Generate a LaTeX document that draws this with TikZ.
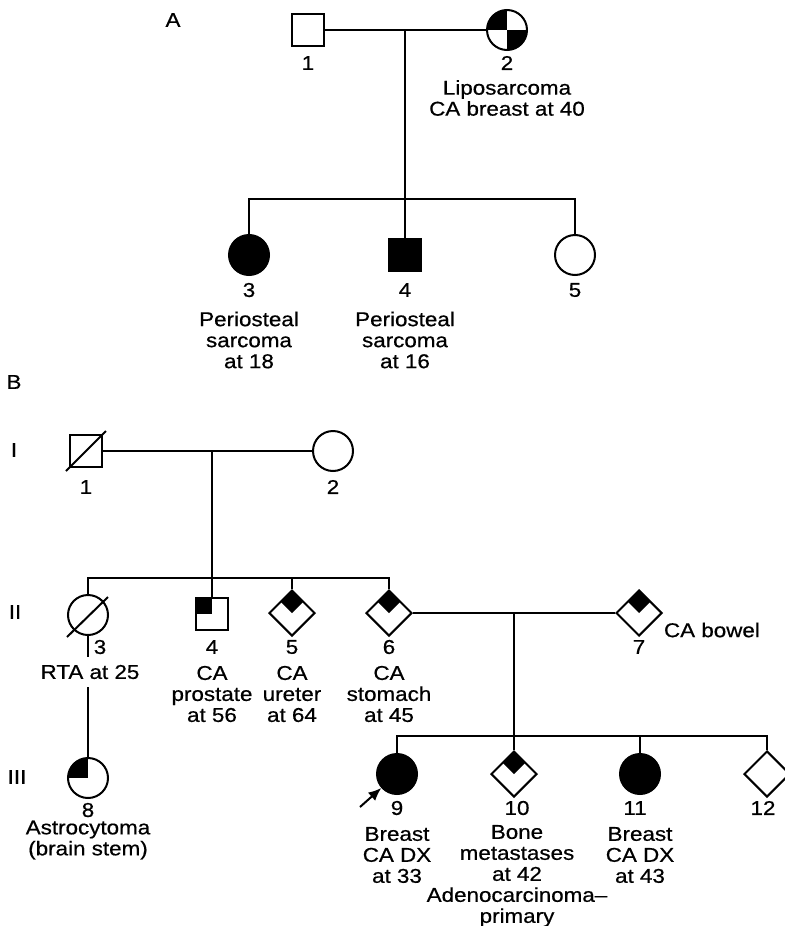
\documentclass[tikz,border=0pt]{standalone}
\usepackage{fontspec}
\setmainfont[FakeStretch=1.12, FakeBold=0.6]{Liberation Sans}
\usetikzlibrary{arrows.meta,shapes.geometric,calc}

\begin{document}
\begin{tikzpicture}[x=0.5pt, y=-0.5pt, line width=1pt,
    male/.style={rectangle, draw, fill=white, minimum size=16pt, inner sep=0pt},
    female/.style={circle, draw, fill=white, minimum size=20pt, inner sep=0pt},
    unknown/.style={diamond, draw, fill=white, aspect=1, minimum size=23pt, inner sep=0pt},
    qul/.style={path picture={\fill[black] (path picture bounding box.center) rectangle (path picture bounding box.north west);}},
    qdiag/.style={path picture={
        \fill[black] (path picture bounding box.center) rectangle (path picture bounding box.north west);
        \fill[black] (path picture bounding box.center) rectangle (path picture bounding box.south east);}},
    qtop/.style={path picture={\fill[black] (path picture bounding box.center)
        -- ($(path picture bounding box.north)!.5!(path picture bounding box.west)$)
        -- (path picture bounding box.north)
        -- ($(path picture bounding box.north)!.5!(path picture bounding box.east)$) -- cycle;}},
    txt/.style={font=\fontsize{10}{10.5}\selectfont, align=center, inner sep=0pt}]

\useasboundingbox (0,0) rectangle (785,926);

% pedigree A
\node[txt] (lblA) at (173,20) {A};
\node[male] (a1) at (308,30) {};
\node[female, qdiag] (a2) at (507,30) {};
\node[female, fill=black] (a3) at (249,255) {};
\node[male, fill=black] (a4) at (405,255) {};
\node[female] (a5) at (575,255) {};

\coordinate (am) at (405,30);
\coordinate (as) at (405,199);
\draw (a1) -- (a2);
\draw (am) -- (a4);
\draw (a3) |- (as) -| (a5);

\node[txt] (a1n) at (308,63) {1};
\node[txt] (a2n) at (507,63) {2};
\node[txt] (a2t) at (507,98) {Liposarcoma\\CA breast at 40};
\node[txt] (a3n) at (249,290) {3};
\node[txt] (a4n) at (405,290) {4};
\node[txt] (a5n) at (575,290) {5};
\node[txt] (a3t) at (249,340) {Periosteal\\sarcoma\\at 18};
\node[txt] (a4t) at (405,340) {Periosteal\\sarcoma\\at 16};

% pedigree B
\node[txt] (lblB) at (14,382) {B};
\node[txt] (genI) at (14,450) {I};
\node[txt] (genII) at (15,612) {II};
\node[txt] (genIII) at (17,777) {III};

\node[male] (b1) at (86,451) {};
\node[female] (b2) at (333,451) {};
\node[female] (b3) at (88,615) {};
\node[male, qul] (b4) at (212,614) {};
\node[unknown, qtop] (b5) at (292,613) {};
\node[unknown, qtop] (b6) at (389,613) {};
\node[unknown, qtop] (b7) at (639,613) {};
\node[female, qul] (b8) at (88,778) {};
\node[female, fill=black] (b9) at (397,774) {};
\node[unknown, qtop] (b10) at (514,774) {};
\node[female, fill=black] (b11) at (640,774) {};
\node[unknown] (b12) at (767,774) {};

\draw ([shift={(-20,20)}]b1.center) -- ([shift={(20,-20)}]b1.center);
\draw ([shift={(-21,22)}]b3.center) -- ([shift={(20,-18)}]b3.center);

\node[txt, inner ysep=3.5pt] (b3t) at (90,672) {RTA at 25};

\coordinate (bm) at (212,451);
\coordinate (bs) at (212,578);
\draw (b1) -- (b2);
\draw (bm) -- (b4);
\draw (b3) |- (bs) -| (b6);
\draw (b5) -- (b5 |- bs);
\draw (b3) -- (b3 |- b3t.north);
\draw (b3 |- b3t.south) -- (b8);

\coordinate (cm) at (514,613);
\coordinate (cs) at (514,736);
\draw (b6) -- (b7);
\draw (cm) -- (b10);
\draw (b9) |- (cs) -| (b12);
\draw (b11) -- (b11 |- cs);

\coordinate (arr) at (360,807);
\draw[-{Latex[length=6.5pt,width=5.5pt]}] (arr) -- (b9);

\node[txt] (b1n) at (86,487) {1};
\node[txt] (b2n) at (333,487) {2};
\node[txt] (b3n) at (100,647) {3};
\node[txt] (b4n) at (212,647) {4};
\node[txt] (b5n) at (292,647) {5};
\node[txt] (b6n) at (389,647) {6};
\node[txt] (b7n) at (639,647) {7};
\node[txt] (b4t) at (212,694) {CA\\prostate\\at 56};
\node[txt] (b5t) at (292,694) {CA\\ureter\\at 64};
\node[txt] (b6t) at (389,694) {CA\\stomach\\at 45};
\node[txt, anchor=west] (b7t) at (663,630) {CA bowel};

\node[txt] (b8n) at (88,810) {8};
\node[txt] (b8t) at (88,840) {Astrocytoma\\(brain stem)};
\node[txt] (b9n) at (397,808) {9};
\node[txt] (b10n) at (517,808) {10};
\node[txt] (b11n) at (635,808) {11};
\node[txt] (b12n) at (763,808) {12};
\node[txt] (b9t) at (397,855) {Breast\\CA DX\\at 33};
\node[txt] (b10t) at (517,876) {Bone\\metastases\\at 42\\Adenocarcinoma--\\primary};
\node[txt] (b11t) at (640,855) {Breast\\CA DX\\at 43};

\end{tikzpicture}
\end{document}
